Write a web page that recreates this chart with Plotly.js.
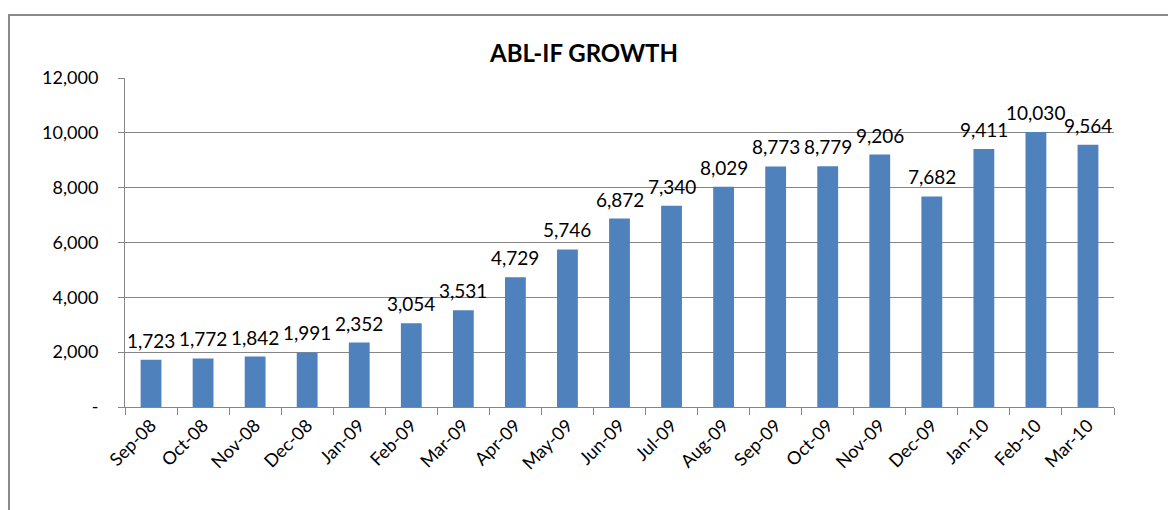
<!DOCTYPE html>
<html>
<head>
<meta charset="utf-8">
<script src="https://cdn.plot.ly/plotly-3.0.1.min.js"></script>
<style>html,body{margin:0;padding:0;background:#fff;}#chart{width:1168px;height:510px;}</style>
</head>
<body>
<div id="chart"></div>
<script>
const months = ["Sep-08","Oct-08","Nov-08","Dec-08","Jan-09","Feb-09","Mar-09","Apr-09","May-09","Jun-09","Jul-09","Aug-09","Sep-09","Oct-09","Nov-09","Dec-09","Jan-10","Feb-10","Mar-10"];
const values = [1723,1772,1842,1991,2352,3054,3531,4729,5746,6872,7340,8029,8773,8779,9206,7682,9411,10030,9564];
const yTickVals = [0,2000,4000,6000,8000,10000,12000];
const yTickText = ["-","2,000","4,000","6,000","8,000","10,000","12,000"];

const font = "Lato, 'Open Sans', sans-serif";
const trace = {
  type: "bar",
  x: months,
  y: values,
  marker: {color: "#4F81BD", line: {width: 0}},
  hoverinfo: "x+y"
};
const labels = months.map((m, i) => ({
  x: m, y: values[i], xref: "x", yref: "y",
  text: values[i].toLocaleString("en-US"),
  showarrow: false, yanchor: "bottom", xanchor: "center", yshift: 6,
  font: {family: font, size: 19, color: "#000"}
}));
const layout = {
  width: 1168, height: 510,
  margin: {l: 125, r: 54, t: 78, b: 103},
  paper_bgcolor: "#fff", plot_bgcolor: "#fff",
  bargap: 0.6,
  showlegend: false,
  title: {text: "<b>ABL-IF GROWTH</b>", x: 0.5, xanchor: "center", y: 0.895, yanchor: "middle", font: {family: font, size: 24, color: "#000"}},
  xaxis: {
    type: "category",
    tickangle: -45,
    tickfont: {family: font, size: 18, color: "#000"},
    showline: true, linecolor: "#868686", linewidth: 1,
    ticks: "outside", ticklen: 7, tickcolor: "#868686", tickson: "boundaries",
    showgrid: false, zeroline: false
  },
  yaxis: {
    range: [0, 12000],
    tickvals: yTickVals, ticktext: yTickText,
    tickfont: {family: font, size: 18, color: "#000"},
    showline: true, linecolor: "#868686", linewidth: 1,
    ticks: "outside", ticklen: 6, tickcolor: "#868686",
    ticklabelstandoff: 16,
    showgrid: true, gridcolor: "#868686", gridwidth: 1,
    zeroline: false
  },
  annotations: labels,
  shapes: [{
    type: "rect", xref: "paper", yref: "paper",
    x0: -0.1173, x1: 1.2, y0: -0.5, y1: 1.1915,
    line: {color: "#8a8a8a", width: 2}, fillcolor: "rgba(0,0,0,0)", layer: "below"
  }]
};
Plotly.newPlot("chart", [trace], layout, {displayModeBar: false, staticPlot: true});
</script>
</body>
</html>
